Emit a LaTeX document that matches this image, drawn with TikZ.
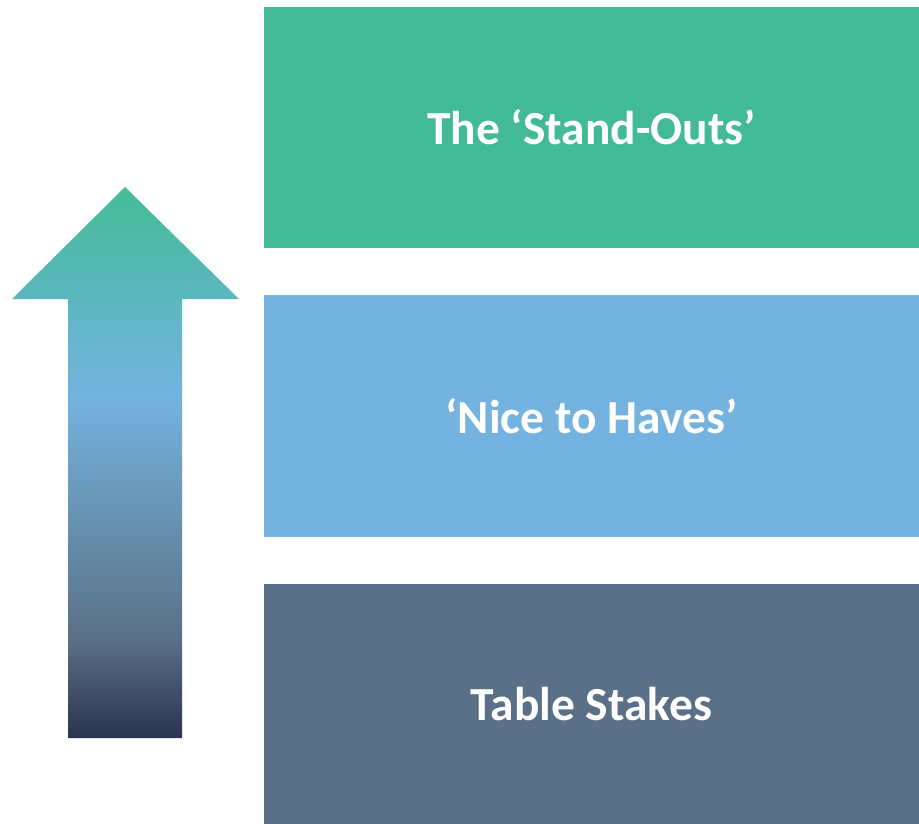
\documentclass[tikz,border=0pt]{standalone}
\usepackage{fontspec}
\setmainfont{Carlito}
\usepackage{tikz}
\definecolor{standout}{HTML}{43BA96}
\definecolor{nicehave}{HTML}{74B3E0}
\definecolor{stakes}{HTML}{5A7086}
\pgfdeclareverticalshading{riseshade}{100bp}{color(0bp)=(rgb,255:red,43;green,52;blue,82); color(25bp)=(rgb,255:red,43;green,52;blue,82); color(29.4bp)=(rgb,255:red,66;green,80;blue,106); color(33.9bp)=(rgb,255:red,90;green,112;blue,134); color(44.8bp)=(rgb,255:red,103;green,146;blue,176); color(56bp)=(rgb,255:red,116;green,179;blue,224); color(64.7bp)=(rgb,255:red,92;green,183;blue,192); color(75bp)=(rgb,255:red,69;green,188;blue,150); color(100bp)=(rgb,255:red,69;green,188;blue,150)}

\begin{document}
\begin{tikzpicture}[x=0.02cm, y=-0.02cm, every node/.style={rectangle, minimum width=13.1cm, inner sep=0pt, text=white, font=\fontsize{27}{32}\selectfont\bfseries}]
  \useasboundingbox (0,0) rectangle (919,824);
  \node (standouts) [fill=standout, minimum height=4.82cm] at (591.5,127.5) {The ‘Stand-Outs’};
  \node (nicetohaves) [fill=nicehave, minimum height=4.84cm] at (591.5,416) {‘Nice to Haves’};
  \node (tablestakes) [fill=stakes, minimum height=4.8cm] at (591.5,704) {Table Stakes};
  \shade[shading=riseshade] (125,187) -- (239,299) -- (182,299) -- (182,738) -- (68,738) -- (68,299) -- (12,299) -- cycle;
\end{tikzpicture}
\end{document}
